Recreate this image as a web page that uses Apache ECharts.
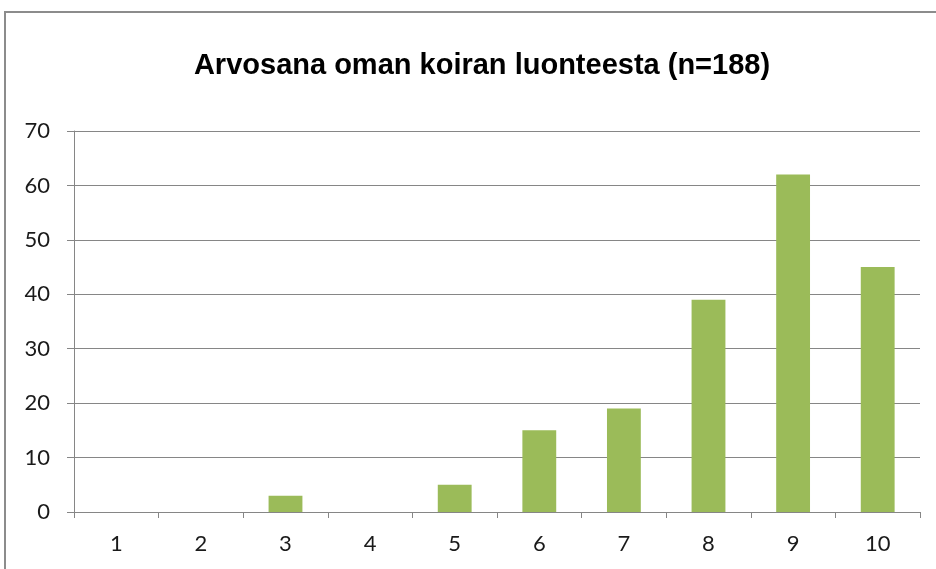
<!DOCTYPE html>
<html><head><meta charset="utf-8">
<script src="https://cdn.jsdelivr.net/npm/echarts@6/dist/echarts.min.js"></script>
<style>html,body{margin:0;padding:0;background:#fff}#c{width:936px;height:569px}</style>
</head><body><div id="c"></div>
<script>
const categories = ['1','2','3','4','5','6','7','8','9','10'];
const values = [0,0,3,0,5,15,19,39,62,45];
const titleText = 'Arvosana oman koiran luonteesta (n=188)';
const chart = echarts.init(document.getElementById('c'));
chart.setOption({
  animation:false,
  backgroundColor:'#fff',
  graphic:[{type:'rect',shape:{x:5,y:12,width:1000,height:700},style:{fill:'none',stroke:'#8c8c8c',lineWidth:2},z:-1}],
  title:{text:titleText,left:477,top:46,textAlign:'center',textStyle:{fontFamily:'Liberation Sans',fontWeight:'bold',fontSize:29,color:'#000'}},
  grid:{left:74,right:16,top:131,bottom:57},
  xAxis:{type:'category',data:categories,
    axisLine:{lineStyle:{color:'#868686',width:1}},
    axisTick:{show:true,length:6,lineStyle:{color:'#868686'}},
    axisLabel:{fontFamily:'Lato',fontSize:22,color:'#1a1a1a',margin:21}},
  yAxis:{type:'value',min:0,max:70,interval:10,
    axisLine:{show:true,lineStyle:{color:'#868686'}},
    axisTick:{show:true,length:7,lineStyle:{color:'#868686'}},
    splitLine:{lineStyle:{color:'#868686',width:1}},
    axisLabel:{fontFamily:'Lato',fontSize:22,color:'#1a1a1a',margin:24}},
  series:[{type:'bar',data:values,barWidth:'40%',itemStyle:{color:'#9BBB59'}}]
});
</script></body></html>
